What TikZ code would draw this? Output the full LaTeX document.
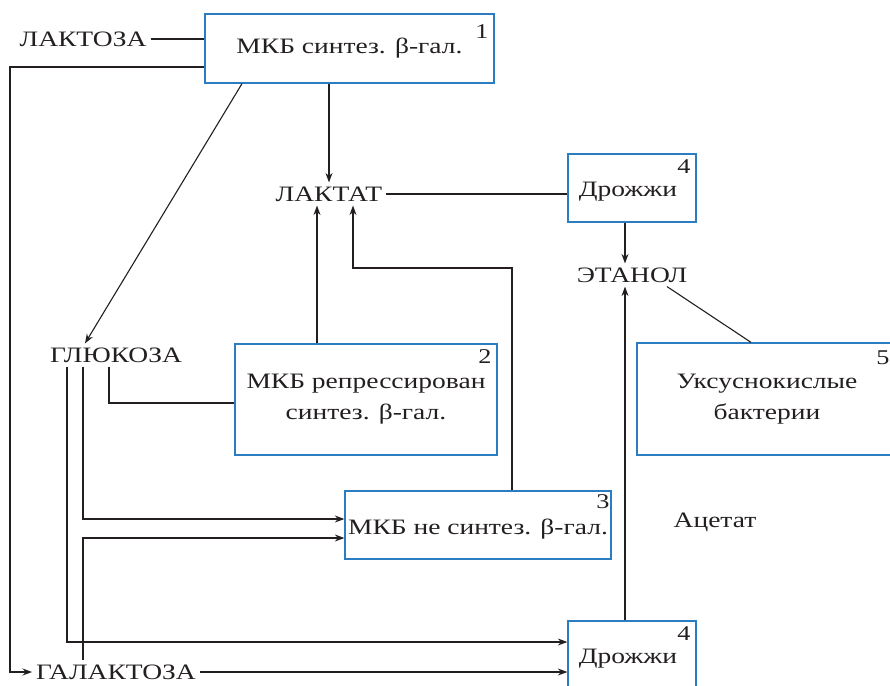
\documentclass[tikz,border=0pt]{standalone}
\usepackage{fontspec}
\setmainfont{Liberation Serif}[FakeStretch=1.25]
\usetikzlibrary{arrows.meta}
\definecolor{ink}{HTML}{231F20}
\definecolor{boxblue}{HTML}{2B7CC0}
\tikzset{
  txt/.style={inner sep=4pt, text=ink, font=\fontsize{22}{26}\selectfont},
  numtxt/.style={inner sep=0pt, text=ink, font=\fontsize{21}{24}\selectfont},
  blk/.style={draw=boxblue, line width=1.3pt, fill=white, inner sep=2pt, text=ink,
     font=\fontsize{22}{31}\selectfont, align=center},
  ln/.style={draw=ink, line width=1.1pt},
  arr/.style={ln, -{Stealth[length=9.5pt,width=7pt]}}
}
\begin{document}
\begin{tikzpicture}[x=1pt,y=-1pt]
\useasboundingbox (0,0) rectangle (890,685);
\clip (0,0) rectangle (890,685);
% boxes
\node[blk, minimum width=289pt, minimum height=69pt] (b1) at (349.5,48.5) {МКБ синтез. β-гал.};
\node[blk, minimum width=262pt, minimum height=111pt] (b2) at (366,399.5) {МКБ репрессирован\\синтез. β-гал.};
\node[blk, minimum width=266pt, minimum height=68pt] (b3) at (478,525) {};
\node[blk, minimum width=128pt, minimum height=68pt] (b4a) at (632,188) {};
\node[blk, minimum width=128pt, minimum height=68pt] (b4b) at (632,655) {};
\node[blk, minimum width=260pt, minimum height=112pt] (b5) at (767,399) {Уксуснокислые\\бактерии};
% box texts
\node[txt, inner sep=0pt] (t3) at (478,529) {МКБ не синтез. β-гал.};
\node[txt, inner sep=0pt] (d4a) at (628,192) {Дрожжи};
\node[txt, inner sep=0pt] (d4b) at (628,659) {Дрожжи};
\node[numtxt] (n1) at (482,32) {1};
\node[numtxt] (n2) at (485,357) {2};
\node[numtxt] (n3) at (603,502) {3};
\node[numtxt] (n4a) at (684,167) {4};
\node[numtxt] (n4b) at (684,634) {4};
\node[numtxt] (n5) at (883,358) {5};
% substances
\node[txt] (lac) at (83,39) {ЛАКТОЗА};
\node[txt] (lact) at (329,194) {ЛАКТАТ};
\node[txt] (eth) at (632,275) {ЭТАНОЛ};
\node[txt] (glu) at (116,355) {ГЛЮКОЗА};
\node[txt] (gal) at (116,672) {ГАЛАКТОЗА};
\node[txt] (ac) at (715,522) {Ацетат};
% corner coordinates
\coordinate (lft) at (10,67);
\coordinate (k3) at (353,268);
% connectors
\draw[ln] (lac.east) -- (lac.east -| b1.west);
\draw[arr] ([yshift=-18.5pt]b1.west) -- (lft) |- (gal.west);
\draw[arr] (b1.south -| lact.north) -- (lact.north);
\draw[arr] ([xshift=-107.5pt]b1.south) -- ([xshift=-31pt]glu.north);
\draw[ln] (lact.east) -- (lact.east -| b4a.west);
\draw[arr] ([xshift=-7pt]b4a.south) -- ([xshift=-7pt]eth.north);
\draw[ln] ([xshift=35pt]eth.south) -- ([xshift=-16pt]b5.north);
\draw[arr] ([xshift=-49pt]b2.north) -- ([xshift=-49pt]b2.north |- lact.south);
\draw[arr] ([xshift=34pt]b3.north) |- (k3) -- (k3 |- lact.south);
\draw[ln] ([xshift=-7pt]glu.south) |- ([yshift=-3.5pt]b2.west);
\draw[arr] ([xshift=-33pt]glu.south) |- ([yshift=6pt]b3.west);
\draw[arr] ([xshift=-49pt]glu.south) |- ([yshift=13pt]b4b.west);
\draw[arr] ([xshift=-33pt]gal.north) |- ([yshift=-13pt]b3.west);
\draw[arr] (gal.east) -- (gal.east -| b4b.west);
\draw[arr] ([xshift=-7pt]b4b.north) -- ([xshift=-7pt]eth.south);
\end{tikzpicture}
\end{document}
